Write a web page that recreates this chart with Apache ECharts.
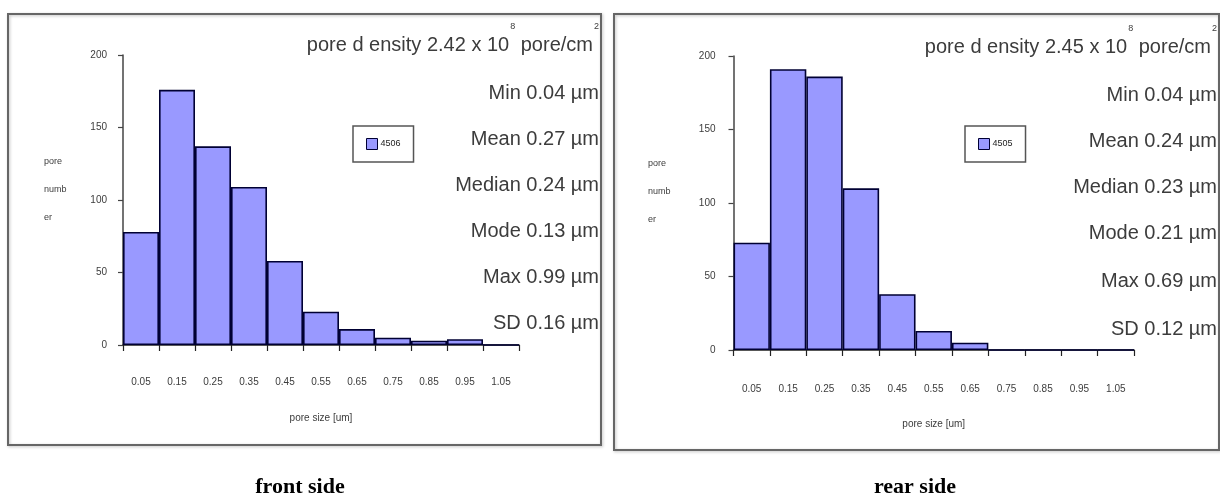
<!DOCTYPE html>
<html>
<head>
<meta charset="utf-8">
<script src="https://cdn.jsdelivr.net/npm/echarts@6/dist/echarts.min.js"></script>
<style>
  html, body { margin: 0; padding: 0; background: #ffffff; }
  #chart { width: 1220px; height: 499px; }
</style>
</head>
<body>
<div id="chart"></div>
<script>
// ---- data ----
const categories = ['0.05', '0.15', '0.25', '0.35', '0.45', '0.55', '0.65', '0.75', '0.85', '0.95', '1.05'];
const frontCounts = [78, 176, 137, 109, 58, 23, 11, 5, 3, 4, 0];
const rearCounts = [73, 191, 186, 110, 38, 13, 5, 0, 0, 0, 0];
const frontName = '4506';
const rearName = '4505';
const frontDensity = ['2.42', '8'];
const rearDensity = ['2.45', '8'];
const frontStats = ['Min 0.04 µm', 'Mean 0.27 µm', 'Median 0.24 µm', 'Mode 0.13 µm', 'Max 0.99 µm', 'SD 0.16 µm'];
const rearStats = ['Min 0.04 µm', 'Mean 0.24 µm', 'Median 0.23 µm', 'Mode 0.21 µm', 'Max 0.69 µm', 'SD 0.12 µm'];
const yTicks = { min: 0, max: 200, interval: 50 };
const xTitle = 'pore size [um]';
const yTitleLines = ['pore', 'numb', 'er'];
const captions = ['front side', 'rear side'];

// ---- layout ----
const panels = [
  { frame: [8, 14, 593, 431], grid: { left: 123, top: 55, width: 396, height: 290 },
    statsRight: 599, statsY: [45, 93, 139, 185, 231, 277, 323], legend: [353, 126],
    yTitleX: 44, yTitleY: [162, 190, 218], caption: [300, 487], labelMargin: 32, nameGap: 68, yLabelMargin: 16,
    data: frontCounts, name: frontName, density: frontDensity, stats: frontStats },
  { frame: [614, 14, 605, 436], grid: { left: 733.5, top: 56, width: 400.5, height: 294 },
    statsRight: 1217, statsY: [47, 95, 141, 187, 233, 281, 329], legend: [965, 126],
    yTitleX: 648, yTitleY: [164, 192, 220], caption: [915, 487], labelMargin: 34, nameGap: 69, yLabelMargin: 18,
    data: rearCounts, name: rearName, density: rearDensity, stats: rearStats }
];

const textColor = '#3c3c3c';
const sans = 'Arial, "Liberation Sans", Helvetica, sans-serif';

const grids = [], xAxes = [], yAxes = [], series = [], legends = [], graphics = [];

panels.forEach((p, i) => {
  grids.push(Object.assign({ containLabel: false }, p.grid));
  xAxes.push({
    type: 'category', gridIndex: i, data: categories, boundaryGap: true,
    axisLine: { lineStyle: { color: '#222', width: 1.5 } },
    axisTick: { show: true, length: 6, lineStyle: { color: '#222', width: 1.2 } },
    axisLabel: { interval: 0, fontSize: 10, color: textColor, fontFamily: sans, margin: p.labelMargin },
    name: xTitle, nameLocation: 'middle', nameGap: p.nameGap,
    nameTextStyle: { fontSize: 10, color: textColor, fontFamily: sans }
  });
  yAxes.push({
    type: 'value', gridIndex: i, min: yTicks.min, max: yTicks.max, interval: yTicks.interval,
    splitLine: { show: false },
    axisLine: { show: true, lineStyle: { color: '#444', width: 1.5 } },
    axisTick: { show: true, length: 5, lineStyle: { color: '#444', width: 1.2 } },
    axisLabel: { fontSize: 10, color: textColor, fontFamily: sans, margin: p.yLabelMargin }
  });
  series.push({
    type: 'bar', name: p.name, xAxisIndex: i, yAxisIndex: i, data: p.data,
    barCategoryGap: '0%', barGap: '0%',
    itemStyle: { color: '#9999ff', borderColor: '#000033', borderWidth: 1.6 },
    emphasis: { disabled: true }, animation: false
  });
  legends.push({
    data: [p.name], left: p.legend[0], top: p.legend[1], orient: 'vertical',
    padding: [12, 13], borderColor: '#555', borderWidth: 1.5, backgroundColor: '#fff',
    icon: 'rect', itemWidth: 11, itemHeight: 11, itemGap: 4, selectedMode: false,
    itemStyle: { borderColor: '#000033', borderWidth: 1 },
    textStyle: { fontSize: 9, color: '#222', fontFamily: sans, padding: [0, 0, 0, -2] }
  });
  // frame
  graphics.push({
    type: 'rect', shape: { x: p.frame[0], y: p.frame[1], width: p.frame[2], height: p.frame[3] },
    style: { fill: 'none', stroke: '#666', lineWidth: 2, shadowColor: 'rgba(0,0,0,0.25)', shadowBlur: 3, shadowOffsetX: 1, shadowOffsetY: 1 },
    z: 0, silent: true
  });
  // density line with superscripts
  graphics.push({
    type: 'text', x: p.statsRight, y: p.statsY[0], silent: true, z: 10,
    style: {
      text: '{m|pore d ensity ' + p.density[0] + ' x 10}{s|' + p.density[1] + '}{m| pore/cm}{s|2}',
      align: 'right', verticalAlign: 'middle',
      rich: {
        m: { fontSize: 20, fontFamily: sans, fill: textColor, lineHeight: 46, verticalAlign: 'middle' },
        s: { fontSize: 9, fontFamily: sans, fill: textColor, lineHeight: 46, verticalAlign: 'top', padding: [0, 0, 0, 1] }
      }
    }
  });
  p.stats.forEach((s, k) => {
    graphics.push({
      type: 'text', x: p.statsRight, y: p.statsY[k + 1], silent: true, z: 10,
      style: { text: s, align: 'right', verticalAlign: 'middle', fontSize: 20, fontFamily: sans, fill: textColor }
    });
  });
  yTitleLines.forEach((t, k) => {
    graphics.push({
      type: 'text', x: p.yTitleX, y: p.yTitleY[k], silent: true,
      style: { text: t, align: 'left', verticalAlign: 'middle', fontSize: 9, fontFamily: sans, fill: textColor }
    });
  });
  graphics.push({
    type: 'text', x: p.caption[0], y: p.caption[1], silent: true,
    style: { text: captions[i], align: 'center', verticalAlign: 'middle', fontSize: 22, fontWeight: 'bold',
             fontFamily: '"Liberation Serif", "Times New Roman", Times, serif', fill: '#000' }
  });
});

const chart = echarts.init(document.getElementById('chart'), null, { renderer: 'canvas' });
chart.setOption({
  backgroundColor: '#ffffff',
  animation: false,
  grid: grids,
  xAxis: xAxes,
  yAxis: yAxes,
  legend: legends,
  series: series,
  graphic: graphics
});
</script>
</body>
</html>
